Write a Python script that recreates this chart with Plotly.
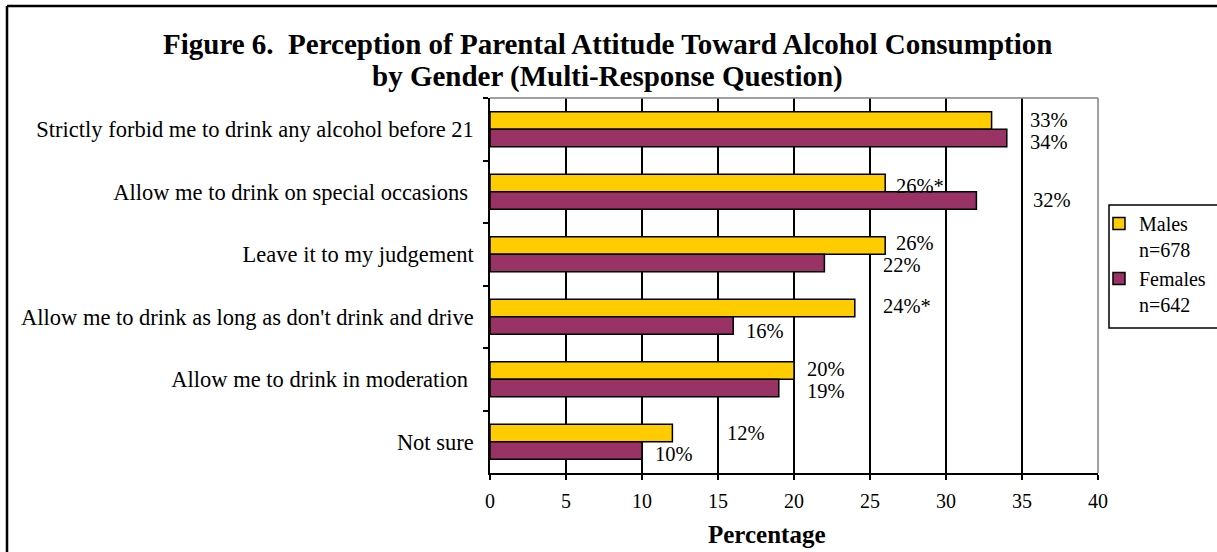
import plotly.graph_objects as go

# ---------------- data ----------------
categories = [
    "Strictly forbid me to drink any alcohol before 21",
    "Allow me to drink on special occasions ",
    "Leave it to my judgement",
    "Allow me to drink as long as don't drink and drive",
    "Allow me to drink in moderation ",
    "Not sure",
]
males = [33, 26, 26, 24, 20, 12]
females = [34, 32, 22, 16, 19, 10]
males_suffix = ["", "*", "", "*", "", ""]
females_suffix = ["", "", "", "", "", ""]
male_name = "Males<br>n=678"
female_name = "Females<br>n=642"
x_ticks = [0, 5, 10, 15, 20, 25, 30, 35, 40]
title_lines = [
    "<b>Figure 6.\u00a0 Perception of Parental Attitude Toward Alcohol Consumption</b>",
    "<b>by Gender (Multi-Response Question)</b>",
]
x_title = "<b>Percentage</b>"

# ---------------- label placement (style) ----------------
male_dx = [2.4, 0.6, 0.6, 1.7, 0.7, 3.45]
female_dx = [1.4, 3.6, 3.7, 0.7, 1.7, 0.75]
male_dy = [9, 6, 11, 11, 10, 9]
female_dy = [-13, -8, -11, -14, -12, -12]
title_y = [1.144, 1.056]

FONT = "Liberation Serif, Times New Roman, serif"
GOLD = "#FFCC00"
MAROON = "#993366"
LBL = 20.5

fig = go.Figure()
fig.add_trace(go.Bar(
    y=categories, x=males, orientation="h", name=male_name,
    marker=dict(color=GOLD, line=dict(color="black", width=1.5)),
))
fig.add_trace(go.Bar(
    y=categories, x=females, orientation="h", name=female_name,
    marker=dict(color=MAROON, line=dict(color="black", width=1.5)),
))

for cat, v, s, dx, dy in zip(categories, males, males_suffix, male_dx, male_dy):
    fig.add_annotation(x=v + dx, y=cat, text=f"{v}%{s}", showarrow=False,
                       xanchor="left", yanchor="middle", yshift=dy,
                       font=dict(family=FONT, size=LBL, color="black"))
for cat, v, s, dx, dy in zip(categories, females, females_suffix, female_dx, female_dy):
    fig.add_annotation(x=v + dx, y=cat, text=f"{v}%{s}", showarrow=False,
                       xanchor="left", yanchor="middle", yshift=dy,
                       font=dict(family=FONT, size=LBL, color="black"))

# title (two lines)
for line, ty in zip(title_lines, title_y):
    fig.add_annotation(x=0.1933, y=ty, xref="paper", yref="paper", text=line,
                       showarrow=False, xanchor="center", yanchor="middle",
                       font=dict(family=FONT, size=29, color="black"))

# x-axis title
fig.add_annotation(x=0.4556, y=-0.1627, xref="paper", yref="paper", text=x_title,
                   showarrow=False, xanchor="center", yanchor="middle",
                   font=dict(family=FONT, size=25, color="black"))

# plot-area border (grey, top and right)
fig.add_shape(type="line", xref="paper", yref="paper", x0=0, x1=1, y0=1, y1=1,
              line=dict(color="#808080", width=1.5))
fig.add_shape(type="line", xref="paper", yref="paper", x0=1, x1=1, y0=0, y1=1,
              line=dict(color="#808080", width=1.5))
# outer frame (left and top visible)
fig.add_shape(type="line", xref="paper", yref="paper", x0=-0.7944, x1=-0.7944,
              y0=-0.3, y1=1.2453, line=dict(color="black", width=2.5))
fig.add_shape(type="line", xref="paper", yref="paper", x0=-0.7944, x1=1.3,
              y0=1.2453, y1=1.2453, line=dict(color="black", width=2.5))
# legend frame
fig.add_shape(type="rect", xref="paper", yref="paper", x0=1.0181, x1=1.25,
              y0=0.3867, y1=0.7147, line=dict(color="black", width=1.5))

fig.update_layout(
    width=1217, height=552,
    margin=dict(l=490, r=119, t=98, b=79, autoexpand=False),
    paper_bgcolor="white", plot_bgcolor="white",
    barmode="group", bargap=0.44, bargroupgap=0,
    font=dict(family=FONT, size=21, color="black"),
    legend=dict(
        x=1.0016, y=0.7173, xanchor="left", yanchor="top",
        borderwidth=0, bgcolor="rgba(0,0,0,0)",
        font=dict(family=FONT, size=20, color="black"),
        valign="top", traceorder="normal", tracegroupgap=0,
    ),
    showlegend=True,
)
fig.update_xaxes(
    range=[0, 40], tickvals=x_ticks, ticktext=[str(t) for t in x_ticks],
    showgrid=True, gridcolor="black", gridwidth=1.5,
    showline=True, linecolor="black", linewidth=1.5,
    ticks="outside", ticklen=5, tickcolor="black", tickwidth=1.5,
    zeroline=False, ticklabelstandoff=4,
    tickfont=dict(family=FONT, size=20),
)
fig.update_yaxes(
    autorange="reversed", showgrid=False,
    showline=True, linecolor="black", linewidth=1.5,
    ticks="outside", ticklen=5, tickcolor="black", tickwidth=1.5,
    tickson="boundaries", ticklabelstandoff=10,
    tickfont=dict(family=FONT, size=22.5),
)

fig.write_html("out.html", config={"displayModeBar": False},
               post_script="document.body.style.margin='0';document.body.style.overflow='hidden';")
